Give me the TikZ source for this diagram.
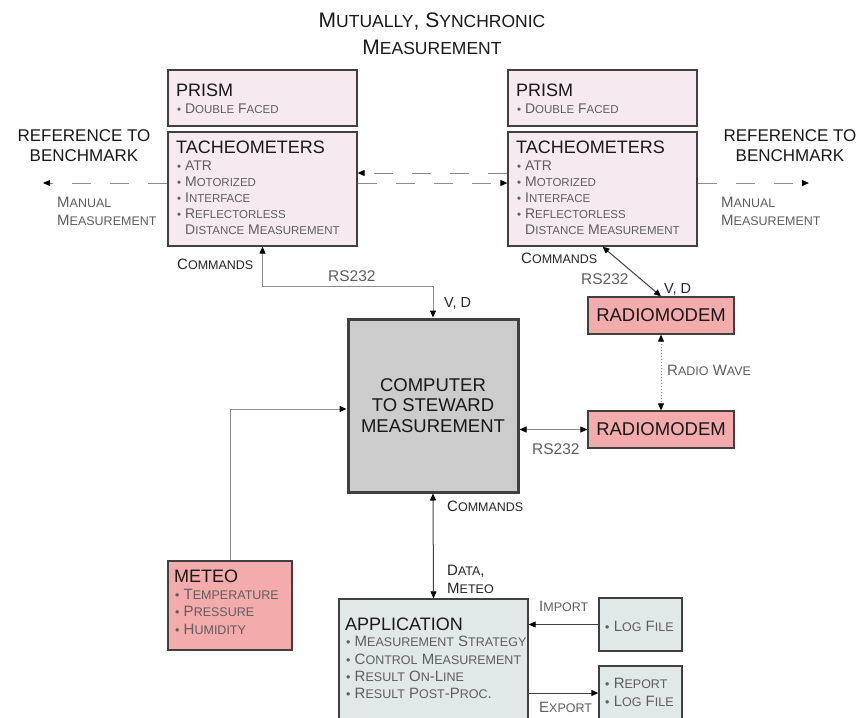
\documentclass[tikz,border=0pt]{standalone}
\usepackage{fontspec}
\setmainfont{Liberation Sans}
\usetikzlibrary{arrows.meta}

\definecolor{prismpink}{HTML}{F6EAF0}
\definecolor{modemred}{HTML}{F4ABAB}
\definecolor{compgray}{HTML}{CCCCCC}
\definecolor{appgray}{HTML}{E1E8E8}
\definecolor{boxline}{HTML}{404040}
\definecolor{linegray}{HTML}{8C8C8C}
\definecolor{txtgray}{HTML}{5E5E5E}

\newcommand{\sz}[2]{\fontsize{#1}{#2}\selectfont}
\newcommand{\lsz}{11.5}
\newcommand{\sm}[1]{{\fontsize{\lsz}{\lsz}\selectfont\MakeUppercase{#1}}}
\newcommand{\bul}{{\fontsize{\lsz}{\lsz}\selectfont\textbullet}\ }

\tikzset{
  box/.style={draw=boxline, line width=1.3pt, inner sep=0pt},
  pinkbox/.style={box, fill=prismpink, minimum width=189pt},
  redbox/.style={box, fill=modemred},
  appbox/.style={box, fill=appgray},
  head/.style={inner sep=0pt, anchor=base west, font=\sz{18}{20}, text=black!90},
  items/.style={inner sep=0pt, anchor=north west, align=left, text=txtgray, font={\sz{14}{16}\def\lsz{11.5}}},
  bigitems/.style={items, font={\sz{15}{17.4}\def\lsz{12.5}}},
  lbl/.style={inner sep=0pt, anchor=base west, font={\sz{15}{18}\def\lsz{12.5}}, text=black!85},
  glbl/.style={lbl, text=txtgray},
  link/.style={draw=linegray, line width=1pt},
  dlink/.style={draw=black!75, line width=1pt},
  refline/.style={link, dash pattern=on 19pt off 19pt},
  >={Triangle[length=7pt, width=6pt, color=black]}
}

\begin{document}
\begin{tikzpicture}[x=1pt, y=-1pt]
  \clip (0,0) rectangle (864,717);
  \fill[white] (0,0) rectangle (864,717);

  \node[inner sep=0pt, anchor=north, align=center, font={\sz{21}{27}\def\lsz{17.5}}, text=black!90] (title) at (432,13)
    {M\sm{utually}, S\sm{ynchronic}\\M\sm{easurement}};

  % tacheometers with prisms
  \node[pinkbox, minimum height=56pt] (prismL) at (262.5,98) {};
  \node[pinkbox, minimum height=114pt] (tachL) at (262.5,189) {};
  \node[pinkbox, minimum height=56pt] (prismR) at (602.5,98) {};
  \node[pinkbox, minimum height=114pt] (tachR) at (602.5,189) {};

  \node[head] (prismLh) at (176,96) {PRISM};
  \node[items] (prismLi) at (177,104) {\bul D\sm{ouble} F\sm{aced}};
  \node[head] (tachLh) at (176,153) {TACHEOMETERS};
  \node[items] (tachLi) at (177,161) {\bul ATR\\\bul M\sm{otorized}\\\bul I\sm{nterface}\\\bul R\sm{eflectorless}\\\hspace*{8pt}D\sm{istance} M\sm{easurement}};
  \node[head] (prismRh) at (516,96) {PRISM};
  \node[items] (prismRi) at (517,104) {\bul D\sm{ouble} F\sm{aced}};
  \node[head] (tachRh) at (516,153) {TACHEOMETERS};
  \node[items] (tachRi) at (517,161) {\bul ATR\\\bul M\sm{otorized}\\\bul I\sm{nterface}\\\bul R\sm{eflectorless}\\\hspace*{8pt}D\sm{istance} M\sm{easurement}};

  \node[inner sep=0pt, anchor=north, align=center, font=\sz{17}{20}, text=black!90] (benchL) at (84,129) {REFERENCE TO\\BENCHMARK};
  \node[inner sep=0pt, anchor=north, align=center, font=\sz{17}{20}, text=black!90] (benchR) at (790,129) {REFERENCE TO\\BENCHMARK};
  \node[glbl, anchor=north west, align=left] (manL) at (57,197) {M\sm{anual}\\M\sm{easurement}};
  \node[glbl, anchor=north west, align=left] (manR) at (721,197) {M\sm{anual}\\M\sm{easurement}};

  \coordinate (refL) at (43,183);
  \coordinate (refR) at (809,183);
  \draw[refline, ->] ([yshift=6pt]tachL.west) -- (refL);
  \draw[refline, ->] ([yshift=6pt]tachR.east) -- (refR);
  \draw[refline, ->] ([yshift=16pt]tachR.west) -- ([yshift=16pt]tachL.east);
  \draw[refline, ->] ([yshift=6pt]tachL.east) -- ([yshift=6pt]tachR.west);

  % computer and radio link
  \node[box, fill=compgray, line width=3pt, minimum width=170pt, minimum height=173pt, align=center, font=\sz{18.5}{20.5}, text=black!90] (comp) at (433,405.5)
    {COMPUTER\\TO STEWARD\\MEASUREMENT};
  \node[redbox, minimum width=146pt, minimum height=37pt, font=\sz{18.5}{20}, text=black!90] (radioA) at (661,315.5) {RADIOMODEM};
  \node[redbox, minimum width=146pt, minimum height=37pt, font=\sz{18.5}{20}, text=black!90] (radioB) at (661,429.5) {RADIOMODEM};

  \draw[link, <->] (tachL.south) -- ++(0,40) -| (comp.north);
  \draw[dlink, <->] (tachR.south) -- (radioA.north);
  \draw[draw=linegray, line width=1pt, dash pattern=on 1pt off 2pt, <->] (radioA.south) -- (radioB.north);
  \draw[link, <->] (comp.east |- radioB.west) -- (radioB.west);

  \node[lbl] (cmdL) at (177,269) {C\sm{ommands}};
  \node[glbl, font=\sz{15.5}{18}] (rsL) at (328,281) {RS232};
  \node[lbl, font=\sz{14.5}{18}] (vdL) at (444,307) {V, D};
  \node[lbl] (cmdR) at (521,263) {C\sm{ommands}};
  \node[glbl, font=\sz{15.5}{18}] (rsR) at (581,284) {RS232};
  \node[lbl, font=\sz{14.5}{18}] (vdR) at (664,293) {V, D};
  \node[glbl] (wave) at (667,375) {R\sm{adio} W\sm{ave}};
  \node[glbl, font=\sz{15.5}{18}] (rsB) at (532,454) {RS232};

  % meteo and application
  \node[redbox, minimum width=124pt, minimum height=89pt] (meteo) at (230,605.5) {};
  \node[head] (meteoh) at (174,582) {METEO};
  \node[bigitems] (meteoi) at (175,589) {\bul T\sm{emperature}\\\bul P\sm{ressure}\\\bul H\sm{umidity}};

  \node[appbox, minimum width=189pt, minimum height=151pt] (app) at (433.5,674.5) {};
  \node[head] (apph) at (345,630) {APPLICATION};
  \node[bigitems] (appi) at (346,636) {\bul M\sm{easurement} S\sm{trategy}\\\bul C\sm{ontrol} M\sm{easurement}\\\bul R\sm{esult} O\sm{n}-L\sm{ine}\\\bul R\sm{esult} P\sm{ost}-P\sm{roc}.};

  \node[appbox, minimum width=83pt, minimum height=53pt] (logA) at (640.5,624.5) {};
  \node[bigitems, anchor=base west] (logAi) at (605,631) {\bul L\sm{og} F\sm{ile}};
  \node[appbox, minimum width=83pt, minimum height=54pt] (logB) at (640.5,693) {};
  \node[bigitems, font={\sz{15}{18}\def\lsz{12.5}}] (logBi) at (605,678) {\bul R\sm{eport}\\\bul L\sm{og} F\sm{ile}};

  \draw[link, ->] (meteo.north) |- ([yshift=-3.5pt]comp.west);
  \draw[dlink, <->] (comp.south) -- (app.north);
  \draw[dlink, ->] (logA.west) -- (app.east |- logA.west);
  \draw[dlink, ->] (app.east |- logB.west) -- (logB.west);

  \node[lbl] (cmdB) at (447,511) {C\sm{ommands}};
  \node[lbl, anchor=north west, align=left] (data) at (447,565) {D\sm{ata},\\M\sm{eteo}};
  \node[glbl] (imp) at (539,611) {I\sm{mport}};
  \node[glbl] (exp) at (539,712) {E\sm{xport}};
\end{tikzpicture}
\end{document}
